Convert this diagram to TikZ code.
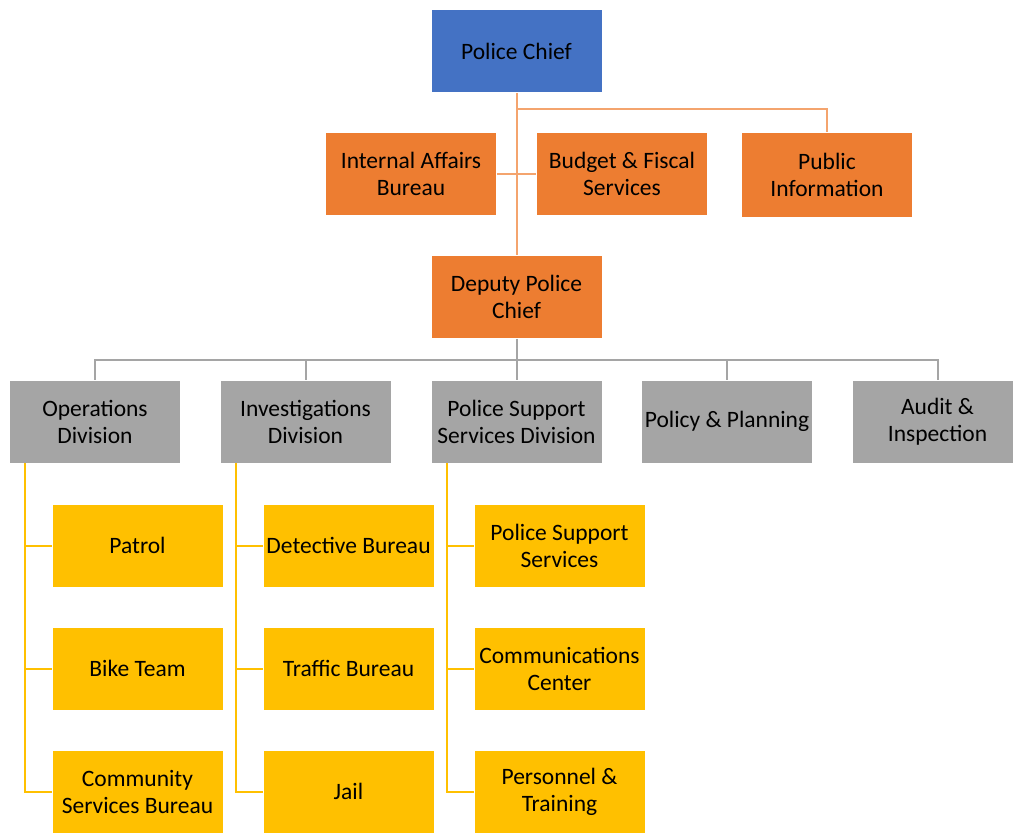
\documentclass[tikz,border=0pt]{standalone}
\usepackage{fontspec}
\setmainfont{Carlito}
\usetikzlibrary{positioning}

\definecolor{chiefblue}{HTML}{4472C4}
\definecolor{staffor}{HTML}{ED7D31}
\definecolor{lineor}{HTML}{F4A46E}
\definecolor{divgray}{HTML}{A5A5A5}
\definecolor{unityel}{HTML}{FFC000}

\tikzset{
    box/.style={draw=white, line width=0.8pt, minimum width=171pt, minimum height=83pt,
        align=center, inner sep=0pt,
        font=\fontsize{23.5}{27}\selectfont, text=black},
    chiefbox/.style={box, fill=chiefblue},
    staffbox/.style={box, fill=staffor},
    divbox/.style={box, fill=divgray},
    unitbox/.style={box, fill=unityel},
    orline/.style={draw=lineor, line width=2pt},
    grline/.style={draw=divgray, line width=2pt},
    yeline/.style={draw=unityel, line width=2pt},
}

\begin{document}
\begin{tikzpicture}[x=1pt, y=-1pt]
        \useasboundingbox (0,0) rectangle (1013,835);

        \coordinate (top) at (516.5,109);
        \coordinate (bus) at (516.5,360);

        \node[chiefbox] (chief) at (516.5,51) {Police Chief};
        \node[staffbox] (ia) at (411,173.5) {Internal Affairs\\Bureau};
        \node[staffbox] (budget) at (622,173.5) {Budget \& Fiscal\\Services};
        \node[staffbox, minimum height=85pt] (pubinfo) at (827,174.5) {Public\\Information};
        \node[staffbox] (deputy) at (516.5,297) {Deputy Police\\Chief};

        \node[divbox] (ops) at (95,421.5) {Operations\\Division};
        \node[divbox] (inv) at (305.5,421.5) {Investigations\\Division};
        \node[divbox] (pss) at (516.5,421.5) {Police Support\\Services Division};
        \node[divbox] (policy) at (727,421.5) {Policy \& Planning};
        \node[divbox] (audit) at (937.5,421.5) {Audit \&\\Inspection};

        \node[unitbox] (patrol) at (137.5,545.5) {Patrol};
        \node[unitbox] (bike) at (137.5,668.5) {Bike Team};
        \node[unitbox] (community) at (137.5,791.5) {Community\\Services Bureau};

        \node[unitbox] (detective) at (348.5,545.5) {Detective Bureau};
        \node[unitbox] (traffic) at (348.5,668.5) {Traffic Bureau};
        \node[unitbox] (jail) at (348.5,791.5) {Jail};

        \node[unitbox] (support) at (559.5,545.5) {Police Support\\Services};
        \node[unitbox] (comms) at (559.5,668.5) {Communications\\Center};
        \node[unitbox] (personnel) at (559.5,791.5) {Personnel \&\\Training};

        % chief and staff
        \draw[orline] (chief.south) -- (deputy.north);
        \draw[orline] (top) -| (pubinfo.north);
        \draw[orline] (ia.east) -- (budget.west);

        % divisions
        \draw[grline] (deputy.south) -- (bus);
        \draw[grline] (ops.north) |- (bus) -| (audit.north);
        \foreach \d in {inv, pss, policy}{
                \draw[grline] (bus -| \d.north) -- (\d.north);
            }

        % units
        \foreach \d/\a/\b/\c in {ops/patrol/bike/community,
                inv/detective/traffic/jail,
                pss/support/comms/personnel}{
                \draw[yeline] ([xshift=16pt]\d.south west) |- (\c.west);
                \draw[yeline] ([xshift=16pt]\d.south west |- \a.west) -- (\a.west);
                \draw[yeline] ([xshift=16pt]\d.south west |- \b.west) -- (\b.west);
            }
    \end{tikzpicture}
\end{document}
